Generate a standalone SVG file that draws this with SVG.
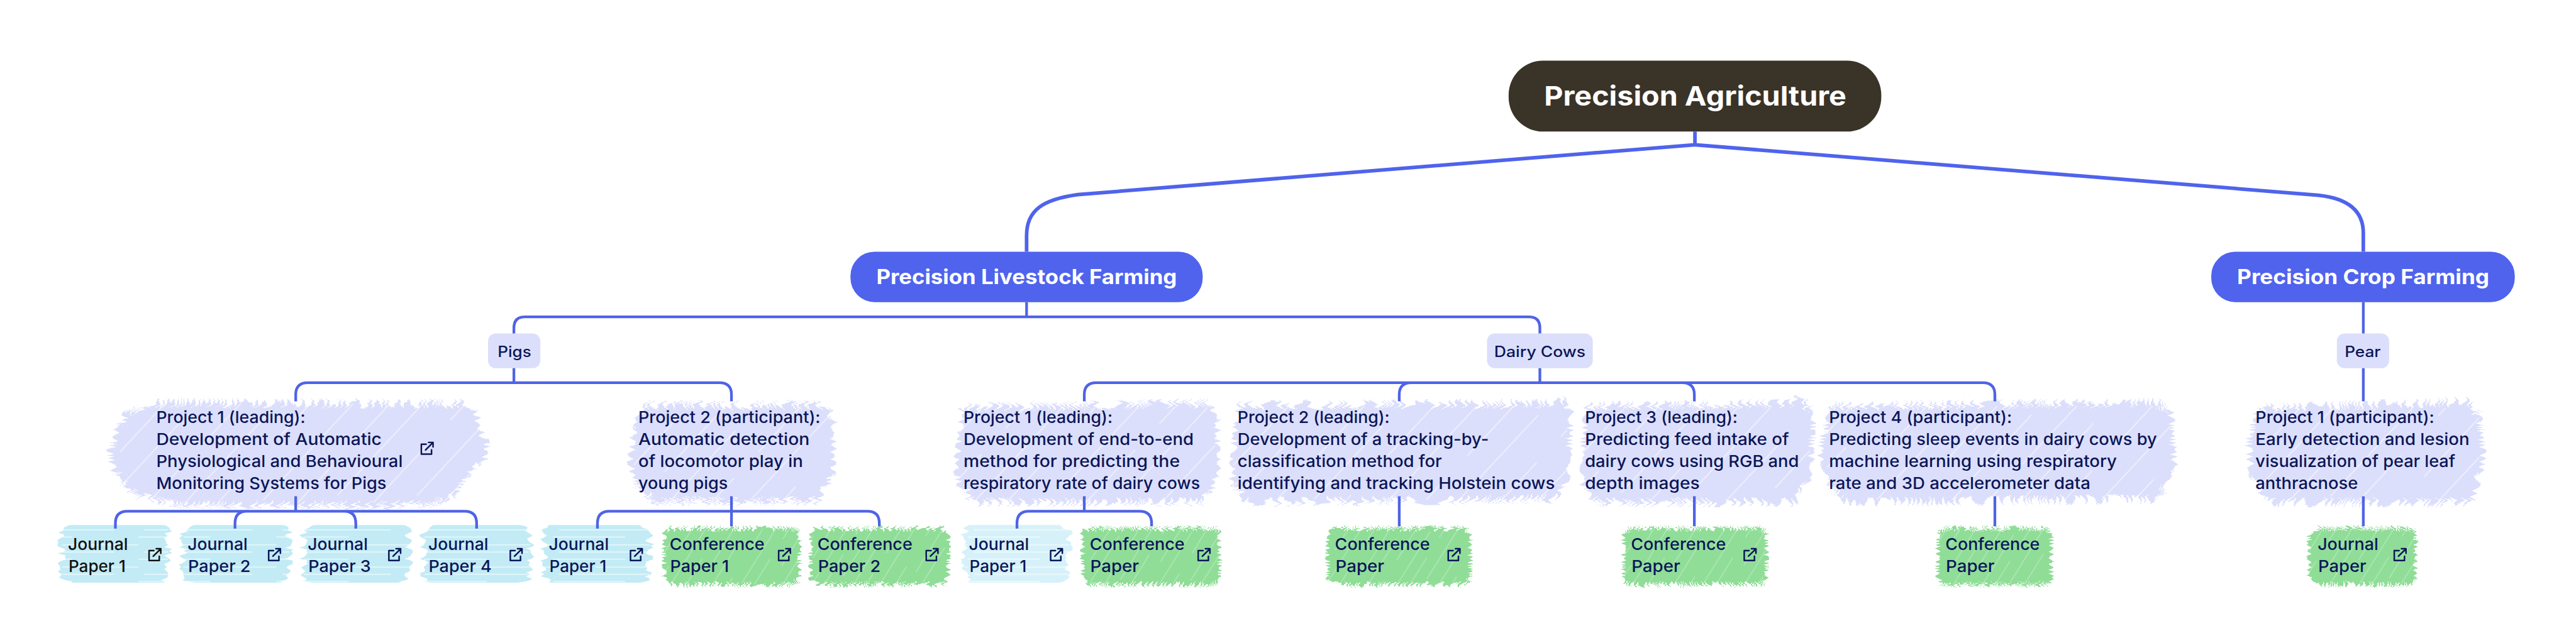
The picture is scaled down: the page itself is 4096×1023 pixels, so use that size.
<svg xmlns="http://www.w3.org/2000/svg" width="4096" height="1023" viewBox="0 0 4096 1023">
<style>
text{font-family:"Inter","Liberation Sans",sans-serif;fill:#0b1658;font-size:27.5px;font-weight:500}
.root{font-size:45px;font-weight:700;fill:#fff}
.main{font-size:34.5px;font-weight:700;fill:#fff}
.sub{font-size:25px}
.dk{fill:#111}
.cn{fill:none;stroke:#4f63e6;stroke-width:4.5}
.cm{fill:none;stroke:#4f63ec;stroke-width:6}
.lav{fill:#dcdffb;filter:url(#rp)}
.blu{fill:#c2ebf5;filter:url(#rj)}
.blu2{fill:#d6f1f9;filter:url(#rj)}
.grn{fill:#90dd98;filter:url(#rg)}
.hl{fill:url(#hatchL)}
.hg{fill:url(#hatchG)}
.hj{fill:url(#hatchJ)}
.ic{fill:none;stroke:#0b1658;stroke-width:2.6;stroke-linecap:round;stroke-linejoin:round}
.ick{stroke:#111}
</style>
<defs>
<filter id="rp" x="-6%" y="-15%" width="112%" height="130%" color-interpolation-filters="sRGB">
<feTurbulence type="fractalNoise" baseFrequency="0.034 0.0006" numOctaves="1" seed="4" result="a"/>
<feComponentTransfer in="a" result="b"><feFuncR type="table" tableValues="0 1 0 1 0 1 0 1 0 1 0 1 0 1 0 1 0 1 0 1 0"/><feFuncG type="linear" slope="0" intercept="0.5"/><feFuncA type="linear" slope="0" intercept="1"/></feComponentTransfer>
<feDisplacementMap in="SourceGraphic" in2="b" scale="17" xChannelSelector="G" yChannelSelector="R" result="c"/>
<feTurbulence type="fractalNoise" baseFrequency="0.0006 0.034" numOctaves="1" seed="9" result="d"/>
<feComponentTransfer in="d" result="e"><feFuncR type="table" tableValues="0 1 0 1 0 1 0 1 0 1 0 1 0 1 0 1 0 1 0 1 0"/><feFuncG type="linear" slope="0" intercept="0.5"/><feFuncA type="linear" slope="0" intercept="1"/></feComponentTransfer>
<feDisplacementMap in="c" in2="e" scale="12" xChannelSelector="R" yChannelSelector="G"/>
</filter>
<filter id="rg" x="-8%" y="-15%" width="116%" height="130%" color-interpolation-filters="sRGB">
<feTurbulence type="fractalNoise" baseFrequency="0.05 0.0008" numOctaves="1" seed="12" result="a"/>
<feComponentTransfer in="a" result="b"><feFuncR type="table" tableValues="0 1 0 1 0 1 0 1 0 1 0 1 0 1 0 1 0 1 0 1 0"/><feFuncG type="linear" slope="0" intercept="0.5"/><feFuncA type="linear" slope="0" intercept="1"/></feComponentTransfer>
<feDisplacementMap in="SourceGraphic" in2="b" scale="11" xChannelSelector="G" yChannelSelector="R" result="c"/>
<feTurbulence type="fractalNoise" baseFrequency="0.0008 0.05" numOctaves="1" seed="21" result="d"/>
<feComponentTransfer in="d" result="e"><feFuncR type="table" tableValues="0 1 0 1 0 1 0 1 0 1 0 1 0 1 0 1 0 1 0 1 0"/><feFuncG type="linear" slope="0" intercept="0.5"/><feFuncA type="linear" slope="0" intercept="1"/></feComponentTransfer>
<feDisplacementMap in="c" in2="e" scale="9" xChannelSelector="R" yChannelSelector="G"/>
</filter>
<filter id="rj" x="-10%" y="-10%" width="120%" height="120%" color-interpolation-filters="sRGB">
<feTurbulence type="fractalNoise" baseFrequency="0.001 0.05" numOctaves="2" seed="7" result="d"/>
<feComponentTransfer in="d" result="e"><feFuncR type="table" tableValues="0 1 0 1 0 1 0"/><feFuncG type="linear" slope="0" intercept="0.5"/><feFuncA type="linear" slope="0" intercept="1"/></feComponentTransfer>
<feDisplacementMap in="SourceGraphic" in2="e" scale="14" xChannelSelector="R" yChannelSelector="G"/>
</filter>
<pattern id="hatchL" width="137" height="310" patternUnits="userSpaceOnUse" patternTransform="rotate(43)">
<path d="M14,0V220M66,60V310M111,0V130M111,190V310" stroke="#fff" stroke-width="1.4" stroke-opacity=".7" fill="none"/>
</pattern>
<pattern id="hatchG" width="59" height="170" patternUnits="userSpaceOnUse" patternTransform="rotate(32)">
<path d="M9,0V110M27,40V170M46,0V70M46,110V170" stroke="#fff" stroke-width="1" stroke-opacity=".45" fill="none"/>
</pattern>
<pattern id="hatchJ" width="230" height="37" patternUnits="userSpaceOnUse">
<path d="M0,6H120M70,19H230M10,31H190" stroke="#fff" stroke-width="1.6" stroke-opacity=".7" fill="none"/>
</pattern>
<g id="ext"><path d="M-2,-6.5H-10V10H7V3M-3,3L9.5,-9.5M2,-9.5H9.5V-2"/></g>
</defs>
<g transform="scale(0.9557)">
<g id="root"><rect x="2510" y="101" width="620" height="118" rx="57" fill="#3a3327"/><text class="root" x="2569" y="176" textLength="503" lengthAdjust="spacingAndGlyphs">Precision Agriculture</text></g>
<g id="livestock"><rect x="1415" y="419" width="586" height="84" rx="40" fill="#4f63ed"/><text class="main" x="1458" y="472.5" textLength="500" lengthAdjust="spacingAndGlyphs">Precision Livestock Farming</text></g>
<g id="crop"><rect x="3679" y="419" width="505" height="84" rx="40" fill="#4f63ed"/><text class="main" x="3722" y="472.5" textLength="419.5" lengthAdjust="spacingAndGlyphs">Precision Crop Farming</text></g>
<g id="pigs"><rect x="812" y="555" width="87" height="58" rx="13" fill="#dcdffb"/><text class="sub" x="828" y="594" textLength="56" lengthAdjust="spacingAndGlyphs">Pigs</text></g>
<g id="dairy"><rect x="2474" y="555" width="176" height="58" rx="13" fill="#dcdffb"/><text class="sub" x="2486" y="594" textLength="152" lengthAdjust="spacingAndGlyphs">Dairy Cows</text></g>
<g id="pear"><rect x="3888" y="555" width="87" height="58" rx="13" fill="#dcdffb"/><text class="sub" x="3901" y="594" textLength="60" lengthAdjust="spacingAndGlyphs">Pear</text></g>

<g id="pig-p1"><polygon class="lav" points="255,671 775,672 790,690 811,744 808,762 762,820 712,841 300,841 222,822 190,785 183,745 210,690"/><rect class="hl" x="200" y="672" width="600" height="165"/>
<text x="260" y="704.500" textLength="248" lengthAdjust="spacingAndGlyphs">Project 1 (leading):</text>
<text x="260" y="741" textLength="375" lengthAdjust="spacingAndGlyphs">Development of Automatic</text>
<text x="260" y="777.500" textLength="410" lengthAdjust="spacingAndGlyphs">Physiological and Behavioural</text>
<text x="260" y="814" textLength="383" lengthAdjust="spacingAndGlyphs">Monitoring Systems for Pigs</text>
<use href="#ext" class="ic" x="711" y="746"/></g>
<g id="pig-p2"><polygon class="lav" points="1070,674 1375,674 1387,700 1387,780 1365,834 1085,834 1055,800 1049,770 1055,720"/><rect class="hl" x="1055" y="676" width="325" height="156"/>
<text x="1062" y="704.500" textLength="303" lengthAdjust="spacingAndGlyphs">Project 2 (participant):</text>
<text x="1062" y="741" textLength="285" lengthAdjust="spacingAndGlyphs">Automatic detection</text>
<text x="1062" y="777.500" textLength="274" lengthAdjust="spacingAndGlyphs">of locomotor play in</text>
<text x="1062" y="814" textLength="149" lengthAdjust="spacingAndGlyphs">young pigs</text></g>
<g id="cow-p1"><polygon class="lav" points="1600,678 2010,671 2026,700 2026,790 2000,836 1620,836 1595,800 1590,770 1598,720"/><rect class="hl" x="1596" y="678" width="425" height="155"/>
<text x="1603" y="704.500" textLength="248" lengthAdjust="spacingAndGlyphs">Project 1 (leading):</text>
<text x="1603" y="741" textLength="383" lengthAdjust="spacingAndGlyphs">Development of end-to-end</text>
<text x="1603" y="777.500" textLength="360" lengthAdjust="spacingAndGlyphs">method for predicting the</text>
<text x="1603" y="814" textLength="393.500" lengthAdjust="spacingAndGlyphs">respiratory rate of dairy cows</text></g>
<g id="cow-p2"><polygon class="lav" points="2062,674 2575,672 2600,666 2615,690 2608,790 2590,830 2080,836 2052,805 2046,770 2056,720"/><rect class="hl" x="2052" y="676" width="555" height="156"/>
<text x="2059" y="704.500" textLength="253" lengthAdjust="spacingAndGlyphs">Project 2 (leading):</text>
<text x="2059" y="741" textLength="418" lengthAdjust="spacingAndGlyphs">Development of a tracking-by-</text>
<text x="2059" y="777.500" textLength="340" lengthAdjust="spacingAndGlyphs">classification method for</text>
<text x="2059" y="814" textLength="528" lengthAdjust="spacingAndGlyphs">identifying and tracking Holstein cows</text></g>
<g id="cow-p3"><polygon class="lav" points="2640,676 2975,672 2995,664 3018,690 3012,790 2985,836 2660,836 2632,805 2630,770 2636,720"/><rect class="hl" x="2636" y="676" width="375" height="156"/>
<text x="2637" y="704.500" textLength="254" lengthAdjust="spacingAndGlyphs">Project 3 (leading):</text>
<text x="2637" y="741" textLength="339.500" lengthAdjust="spacingAndGlyphs">Predicting feed intake of</text>
<text x="2637" y="777.500" textLength="356" lengthAdjust="spacingAndGlyphs">dairy cows using RGB and</text>
<text x="2637" y="814" textLength="191" lengthAdjust="spacingAndGlyphs">depth images</text></g>
<g id="cow-p4"><polygon class="lav" points="3045,676 3590,670 3612,690 3618,770 3610,800 3590,830 3070,836 3035,790 3027,750 3038,710"/><rect class="hl" x="3040" y="676" width="570" height="156"/>
<text x="3043" y="704.500" textLength="304.500" lengthAdjust="spacingAndGlyphs">Project 4 (participant):</text>
<text x="3043" y="741" textLength="545.500" lengthAdjust="spacingAndGlyphs">Predicting sleep events in dairy cows by</text>
<text x="3043" y="777.500" textLength="479" lengthAdjust="spacingAndGlyphs">machine learning using respiratory</text>
<text x="3043" y="814" textLength="435" lengthAdjust="spacingAndGlyphs">rate and 3D accelerometer data</text></g>
<g id="pear-p1"><polygon class="lav" points="3755,680 4105,668 4125,690 4132,770 4110,836 3770,836 3745,790 3741,740"/><rect class="hl" x="3750" y="680" width="375" height="152"/>
<text x="3752.600" y="704.500" textLength="297.500" lengthAdjust="spacingAndGlyphs">Project 1 (participant):</text>
<text x="3752.600" y="741" textLength="356" lengthAdjust="spacingAndGlyphs">Early detection and lesion</text>
<text x="3752.600" y="777.500" textLength="332.400" lengthAdjust="spacingAndGlyphs">visualization of pear leaf</text>
<text x="3752.600" y="814" textLength="170.400" lengthAdjust="spacingAndGlyphs">anthracnose</text></g>

<g id="j1"><rect class="blu" x="103" y="874" width="177" height="96" rx="16"/><rect class="hj" x="103" y="874" width="177" height="96"/><text class="dk" x="113" y="916" textLength="100" lengthAdjust="spacingAndGlyphs">Journal</text><text class="dk" x="114" y="952" textLength="95" lengthAdjust="spacingAndGlyphs">Paper 1</text><use href="#ext" class="ic ick" x="258" y="923"/></g>
<g id="j2"><rect class="blu" x="305" y="874" width="176" height="96" rx="16"/><rect class="hj" x="305" y="874" width="176" height="96"/><text x="312" y="916" textLength="100" lengthAdjust="spacingAndGlyphs">Journal</text><text x="313" y="952" textLength="104" lengthAdjust="spacingAndGlyphs">Paper 2</text><use href="#ext" class="ic" x="457" y="923"/></g>
<g id="j3"><rect class="blu" x="505" y="874" width="175" height="96" rx="16"/><rect class="hj" x="505" y="874" width="175" height="96"/><text x="512" y="916" textLength="100" lengthAdjust="spacingAndGlyphs">Journal</text><text x="513" y="952" textLength="104" lengthAdjust="spacingAndGlyphs">Paper 3</text><use href="#ext" class="ic" x="657" y="923"/></g>
<g id="j4"><rect class="blu" x="705" y="874" width="178" height="96" rx="16"/><rect class="hj" x="705" y="874" width="178" height="96"/><text x="712.500" y="916" textLength="100" lengthAdjust="spacingAndGlyphs">Journal</text><text x="713" y="952" textLength="105" lengthAdjust="spacingAndGlyphs">Paper 4</text><use href="#ext" class="ic" x="859" y="923"/></g>
<g id="j5"><rect class="blu" x="906" y="874" width="175" height="96" rx="16"/><rect class="hj" x="906" y="874" width="175" height="96"/><text x="913" y="916" textLength="100" lengthAdjust="spacingAndGlyphs">Journal</text><text x="914" y="952" textLength="95" lengthAdjust="spacingAndGlyphs">Paper 1</text><use href="#ext" class="ic" x="1059" y="923"/></g>
<g id="c1"><rect class="grn" x="1105" y="880" width="225" height="93" rx="14"/><rect class="hg" x="1105" y="880" width="225" height="93"/><text x="1114" y="916" textLength="158" lengthAdjust="spacingAndGlyphs">Conference</text><text x="1115" y="952" textLength="98" lengthAdjust="spacingAndGlyphs">Paper 1</text><use href="#ext" class="ic" x="1305.500" y="923"/></g>
<g id="c2"><rect class="grn" x="1349" y="880" width="229" height="93" rx="14"/><rect class="hg" x="1349" y="880" width="229" height="93"/><text x="1360" y="916" textLength="158" lengthAdjust="spacingAndGlyphs">Conference</text><text x="1361" y="952" textLength="104" lengthAdjust="spacingAndGlyphs">Paper 2</text><use href="#ext" class="ic" x="1551" y="923"/></g>
<g id="j6"><rect class="blu2" x="1605" y="874" width="174" height="96" rx="16"/><rect class="hj" x="1605" y="874" width="174" height="96"/><text x="1612" y="916" textLength="100" lengthAdjust="spacingAndGlyphs">Journal</text><text x="1613" y="952" textLength="95" lengthAdjust="spacingAndGlyphs">Paper 1</text><use href="#ext" class="ic" x="1758" y="923"/></g>
<g id="c3"><rect class="grn" x="1801" y="880" width="228" height="93" rx="14"/><rect class="hg" x="1801" y="880" width="228" height="93"/><text x="1813" y="916" textLength="158" lengthAdjust="spacingAndGlyphs">Conference</text><text x="1814" y="952" textLength="81" lengthAdjust="spacingAndGlyphs">Paper</text><use href="#ext" class="ic" x="2003.500" y="923"/></g>
<g id="c4"><rect class="grn" x="2209" y="880" width="237" height="93" rx="14"/><rect class="hg" x="2209" y="880" width="237" height="93"/><text x="2221" y="916" textLength="158" lengthAdjust="spacingAndGlyphs">Conference</text><text x="2222" y="952" textLength="81" lengthAdjust="spacingAndGlyphs">Paper</text><use href="#ext" class="ic" x="2419.500" y="923"/></g>
<g id="c5"><rect class="grn" x="2701" y="880" width="238" height="93" rx="14"/><rect class="hg" x="2701" y="880" width="238" height="93"/><text x="2713.500" y="916" textLength="158" lengthAdjust="spacingAndGlyphs">Conference</text><text x="2714.500" y="952" textLength="81" lengthAdjust="spacingAndGlyphs">Paper</text><use href="#ext" class="ic" x="2912" y="923"/></g>
<g id="c6"><rect class="grn" x="3224" y="880" width="189" height="93" rx="14"/><rect class="hg" x="3224" y="880" width="189" height="93"/><text x="3236.700" y="916" textLength="157" lengthAdjust="spacingAndGlyphs">Conference</text><text x="3237.500" y="952" textLength="81" lengthAdjust="spacingAndGlyphs">Paper</text></g>
<g id="c7"><rect class="grn" x="3842" y="880" width="177" height="93" rx="14"/><rect class="hg" x="3842" y="880" width="177" height="93"/><text x="3856" y="916" textLength="101" lengthAdjust="spacingAndGlyphs">Journal</text><text x="3857" y="952" textLength="80" lengthAdjust="spacingAndGlyphs">Paper</text><use href="#ext" class="ic" x="3993.500" y="923"/></g>

<g id="connectors">
<path class="cm" d="M2820,219V241L1793,324C1735,332 1708,350 1708,392V419"/>
<path class="cm" d="M2820,241L3857,325C3905,330 3932,350 3932,388V419"/>
<path class="cn" d="M1708,503V527.500M873,527.500H2544Q2562,527.500 2562,546V555M873,527.500Q855,527.500 855,546V555"/>
<path class="cn" d="M3932,503V555M3932,613V668M3932,826V876"/>
<path class="cn" d="M855,613V637M512,637H1197Q1217,637 1217,657V668M512,637Q492,637 492,657V668"/>
<path class="cn" d="M2562,613V637M1824,637H3299Q3319,637 3319,657V668M1824,637Q1804,637 1804,657V668M2348,637Q2328,637 2328,657V668M2799,637Q2819,637 2819,657V668"/>
<path class="cn" d="M492,826V851M212,851H773Q793,851 793,871V880M212,851Q192,851 192,871V880M411,851Q391,851 391,871V880M572,851Q592,851 592,871V880"/>
<path class="cn" d="M1217,826V876M1014,851H1443Q1463,851 1463,871V876M1014,851Q994,851 994,871V880"/>
<path class="cn" d="M1804,826V851M1712,851H1896Q1916,851 1916,871V876M1712,851Q1692,851 1692,871V880"/>
<path class="cn" d="M2328,826V876M2819,826V876M3319,826V876"/>
</g>
</g>
</svg>
